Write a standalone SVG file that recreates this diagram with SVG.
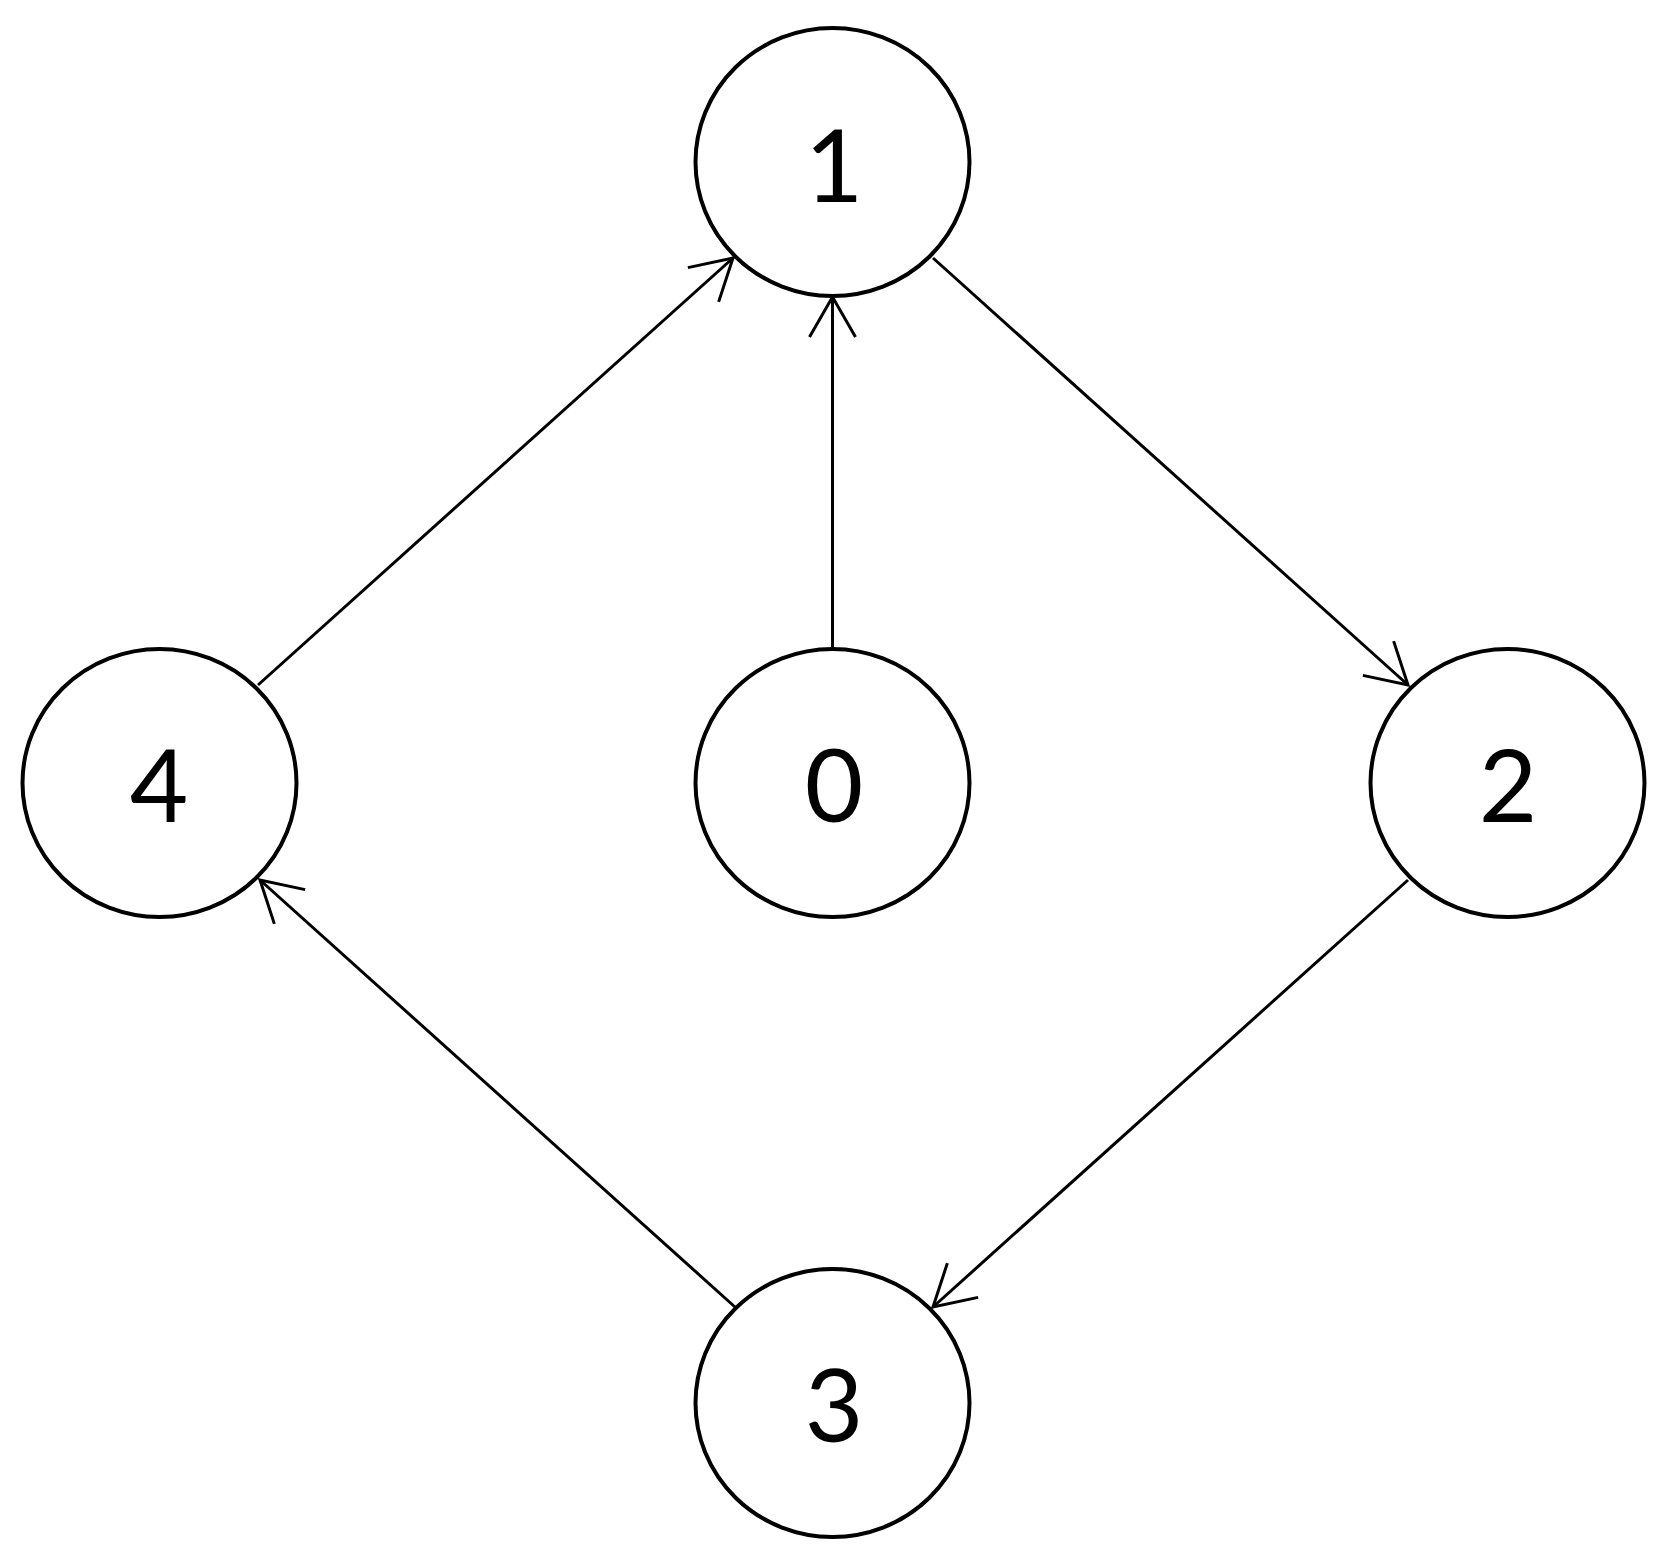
<svg xmlns="http://www.w3.org/2000/svg" width="1667" height="1560" viewBox="0 0 1667 1560">
<style>
.node{fill:#fff;stroke:#000;stroke-width:4}
.lbl{font-family:Lato,"Open Sans","Liberation Sans",sans-serif;font-size:101px;fill:#000;text-anchor:middle}
.edge{stroke:#000;stroke-width:3;fill:none}
</style>
<defs>
<marker id="arr" markerUnits="userSpaceOnUse" markerWidth="60" markerHeight="60" viewBox="-50 -30 60 60" refX="0" refY="0" orient="auto">
<path d="M -40 -23 L 0 0 L -40 23" fill="none" stroke="#000" stroke-width="3"/>
</marker>
</defs>
<rect width="1667" height="1560" fill="#fff"/>
<g id="edges">
<line class="edge" x1="832.5" y1="649" x2="832.5" y2="297" marker-end="url(#arr)"/>
<line class="edge" x1="258" y1="685" x2="733" y2="258" marker-end="url(#arr)"/>
<line class="edge" x1="933" y1="258" x2="1408" y2="685" marker-end="url(#arr)"/>
<line class="edge" x1="1408" y1="880" x2="933" y2="1307" marker-end="url(#arr)"/>
<line class="edge" x1="735" y1="1307" x2="260" y2="880" marker-end="url(#arr)"/>
</g>
<g id="node1"><ellipse class="node" cx="832.5" cy="162" rx="137" ry="134"/><text class="lbl" x="834" y="202">1</text></g>
<g id="node0"><ellipse class="node" cx="832.5" cy="783" rx="137" ry="134"/><text class="lbl" x="834" y="822">0</text></g>
<g id="node4"><ellipse class="node" cx="159.5" cy="783" rx="137" ry="134"/><text class="lbl" x="159" y="822">4</text></g>
<g id="node2"><ellipse class="node" cx="1507.5" cy="783" rx="137" ry="134"/><text class="lbl" x="1508" y="822">2</text></g>
<g id="node3"><ellipse class="node" cx="832.5" cy="1403" rx="137" ry="134"/><text class="lbl" x="834" y="1442">3</text></g>
</svg>
